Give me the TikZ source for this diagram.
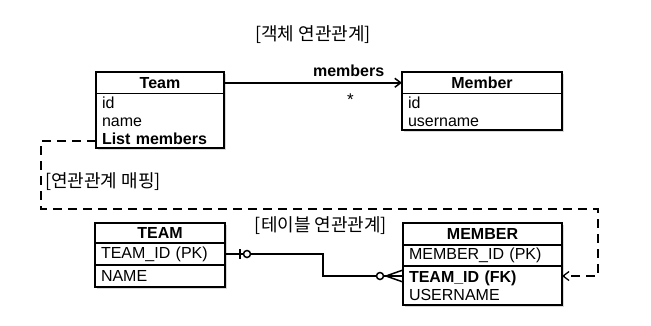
\documentclass[tikz,border=0pt]{standalone}
\usepackage{fontspec}
\setmainfont{Liberation Sans}
\newfontfamily\kofont{Noto Sans CJK KR}
\usetikzlibrary{arrows.meta, positioning, calc, shadows}
\tikzset{
  boxshadow/.style={drop shadow={shadow xshift=1.5pt, shadow yshift=-1.5pt, opacity=0.3}},
  hdr/.style={rectangle, draw=black, fill=white, line width=1.5pt, outer sep=0pt,
    inner sep=0pt, font=\fontsize{16}{18}\selectfont\bfseries, boxshadow},
  attrs/.style={rectangle, draw=black, fill=white, line width=1.5pt, outer sep=0pt,
    inner xsep=6pt, inner ysep=0pt, align=left, font=\fontsize{16}{18}\selectfont, boxshadow},
  kolabel/.style={font=\kofont\fontsize{18}{20}\selectfont, inner sep=0pt},
  objarrow/.style={-{Straight Barb[length=6pt, width=9pt]}, line width=1.5pt},
  maparrow/.style={-{Straight Barb[length=6pt, width=9pt]}, line width=1.3pt, dash pattern=on 9pt off 6pt},
  relline/.style={line width=1.5pt}
}

\begin{document}
\begin{tikzpicture}[x=1pt, y=-1pt]
  \useasboundingbox (0,0) rectangle (651,325);

  % Object association
  \node[kolabel] (objtitle) at (313,35) {[객체 연관관계]};
  \node[hdr, minimum width=128pt, minimum height=21.5pt, anchor=north west] (team) at (96,72) {Team};
  \node[attrs, text width=116pt, minimum height=54.5pt, below=0pt of team] (teamattr) {id\\name\\\textbf{List members}};
  \node[hdr, minimum width=160pt, minimum height=21.5pt, anchor=north west] (member) at (402,72) {Member};
  \node[attrs, text width=148pt, minimum height=36.5pt, below=0pt of member] (memberattr) {id\\username};

  \draw[objarrow] (team.east) -- (member.west)
    node[pos=0.7, above=2pt, font=\fontsize{16}{18}\selectfont\bfseries] {members}
    node[pos=0.71, below=7pt, font=\fontsize{17}{18}\selectfont] {*};

  % Table association
  \node[kolabel] (tabletitle) at (321,226) {[테이블 연관관계]};
  \node[hdr, minimum width=130pt, minimum height=20pt, anchor=north west] (teamtbl) at (95,223) {TEAM};
  \node[attrs, text width=118pt, minimum height=22pt, below=0pt of teamtbl] (teamid) {TEAM\_ID (PK)};
  \node[attrs, text width=118pt, minimum height=22pt, below=0pt of teamid] (teamname) {NAME};
  \node[hdr, minimum width=159pt, minimum height=22pt, anchor=north west] (membertbl) at (403,223) {MEMBER};
  \node[attrs, text width=147pt, minimum height=21pt, below=0pt of membertbl] (memberid) {MEMBER\_ID (PK)};
  \node[attrs, text width=147pt, minimum height=39pt, below=0pt of memberid] (memberrest) {\textbf{TEAM\_ID (FK)}\\USERNAME};

  \coordinate (fkwest) at ($(memberrest.north west)+(0,10)$);
  \coordinate (fkeast) at ($(memberrest.north east)+(0,10)$);
  \coordinate (jog) at (323,265);
  \draw[relline] (teamid.east) -| (jog) |- (fkwest);
  \draw[relline] ($(teamid.east)+(15,-5)$) -- ($(teamid.east)+(15,5)$);
  \draw[relline, fill=white] ($(teamid.east)+(22,0)$) circle[radius=3.5pt];
  \draw[relline, fill=white] ($(fkwest)+(-23,0)$) circle[radius=3.5pt];
  \foreach \dy in {-6,0,6}
    \draw[relline] ($(fkwest)+(-17,0)$) -- ($(fkwest)+(0,\dy)$);

  % Mapping
  \node[kolabel, anchor=west] (maptitle) at (45,182) {[연관관계 매핑]};
  \coordinate (mapstart) at ($(teamattr.south west)+(0,-7)$);
  \coordinate (mapbend) at (41,141);
  \coordinate (mapcorner) at (598,209);
  \draw[maparrow] (mapstart) -- (mapbend) |- (mapcorner) |- (fkeast);
\end{tikzpicture}
\end{document}
